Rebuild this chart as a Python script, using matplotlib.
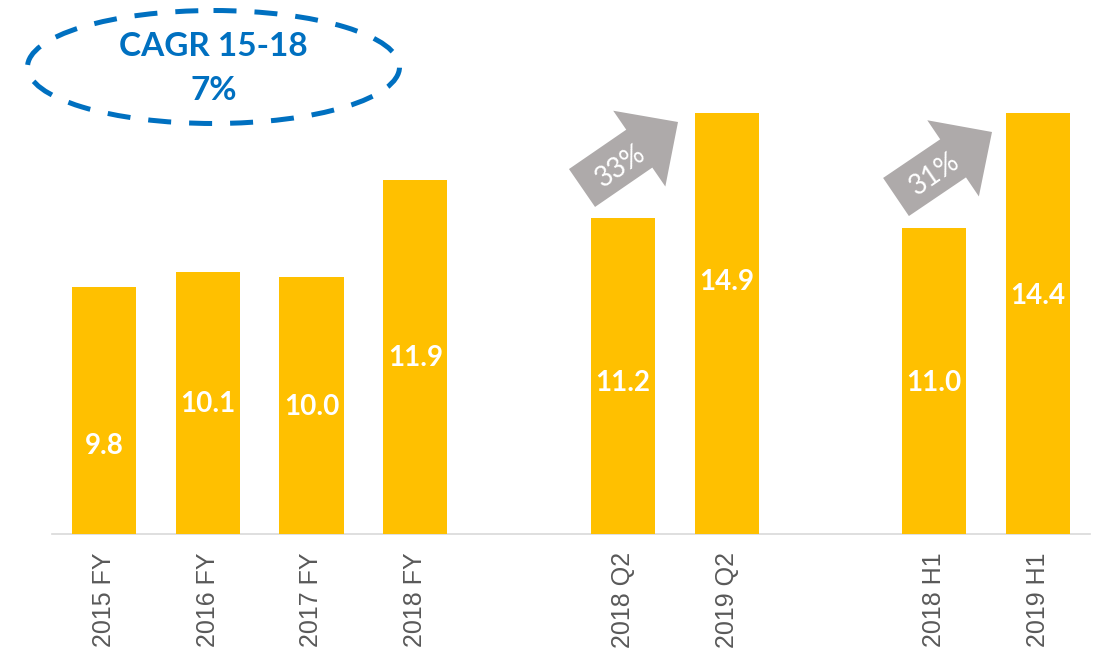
import matplotlib
matplotlib.use("Agg")
import matplotlib.pyplot as plt
from matplotlib.patches import Ellipse, FancyArrow

# --- data ---
categories = ["2015 FY", "2016 FY", "2017 FY", "2018 FY", "",
              "2018 Q2", "2019 Q2", "",
              "2018 H1", "2019 H1"]
fy_values = [9.8, 10.1, 10.0, 11.9]
q2_values = [11.2, 14.9]
h1_values = [11.0, 14.4]
growth_labels = ["33%", "31%"]
cagr_lines = ["CAGR 15-18", "7%"]

# slot index of each bar on the shared category axis
fy_pos = [0, 1, 2, 3]
q2_pos = [5, 6]
h1_pos = [8, 9]

BAR = "#FFC000"
GREY = "#AEAAAA"
BLUE = "#0070C0"

W, H = 1096, 657
fig = plt.figure(figsize=(W / 100, H / 100), dpi=100)

# main axis: categories + baseline (pixel box 52..1090 x 34..534)
ax = fig.add_axes([52 / W, (H - 534) / H, 1038 / W, 500 / H])
ax.set_xlim(-0.5, len(categories) - 0.5)
ax.set_ylim(0, 1)
ax.set_xticks(range(len(categories)))
ax.set_xticklabels(categories, rotation=90, fontsize=18, color="#595959",
                   family="Liberation Sans")
ax.tick_params(axis="x", length=0, pad=13)
ax.set_yticks([])
for s in ["top", "left", "right"]:
    ax.spines[s].set_visible(False)
ax.spines["bottom"].set_color("#D9D9D9")
ax.spines["bottom"].set_linewidth(1.2)

# each group in the source has its own value scale
groups = [(fy_pos, fy_values, (4.97, 14.75)),
          (q2_pos, q2_values, (0.0, 17.70)),
          (h1_pos, h1_values, (2.0, 16.71))]
for pos, vals, lim in groups:
    g = ax.twinx()
    g.set_ylim(*lim)
    g.set_axis_off()
    g.bar(pos, [v - lim[0] for v in vals], bottom=lim[0], width=0.617,
          color=BAR, zorder=2)

# overlay in pixel coordinates for annotations
ov = fig.add_axes([0, 0, 1, 1])
ov.set_xlim(0, W)
ov.set_ylim(H, 0)
ov.set_axis_off()
ov.patch.set_alpha(0)

# value labels inside the bars
all_pos = fy_pos + q2_pos + h1_pos
all_vals = fy_values + q2_values + h1_values
label_y = [446, 404, 407, 358, 383, 282, 383, 296]
for p, v, ly in zip(all_pos, all_vals, label_y):
    x = 52 + (p + 0.5) * 103.8
    ov.text(x, ly, f"{v:.1f}", color="white", fontsize=20, fontweight="bold",
            family="Lato", ha="center", va="center")

# growth arrows
arrows = [((582, 188), (96, -66), (621, 166)),
          ((896, 197), (96, -65), (935, 174))]
for (tail, d, tpos), lab in zip(arrows, growth_labels):
    ov.add_patch(FancyArrow(tail[0], tail[1], d[0], d[1], width=46,
                            head_width=92, head_length=47,
                            length_includes_head=True, color=GREY, lw=0,
                            zorder=3))
    ov.text(tpos[0], tpos[1], lab, color="white", fontsize=20,
            family="Lato", rotation=34.5, zorder=4,
            ha="center", va="center", rotation_mode="anchor")

# CAGR bubble
ov.add_patch(Ellipse((213.5, 67), 372, 113, fill=False, edgecolor=BLUE,
                     lw=3.6, linestyle=(0, (4.6, 3.6))))
for ty, line in zip([47, 91], cagr_lines):
    ov.text(213.5, ty, line, color=BLUE, fontsize=24, fontweight="bold",
            family="Lato", ha="center", va="center")

fig.savefig("out.png", dpi=100)
